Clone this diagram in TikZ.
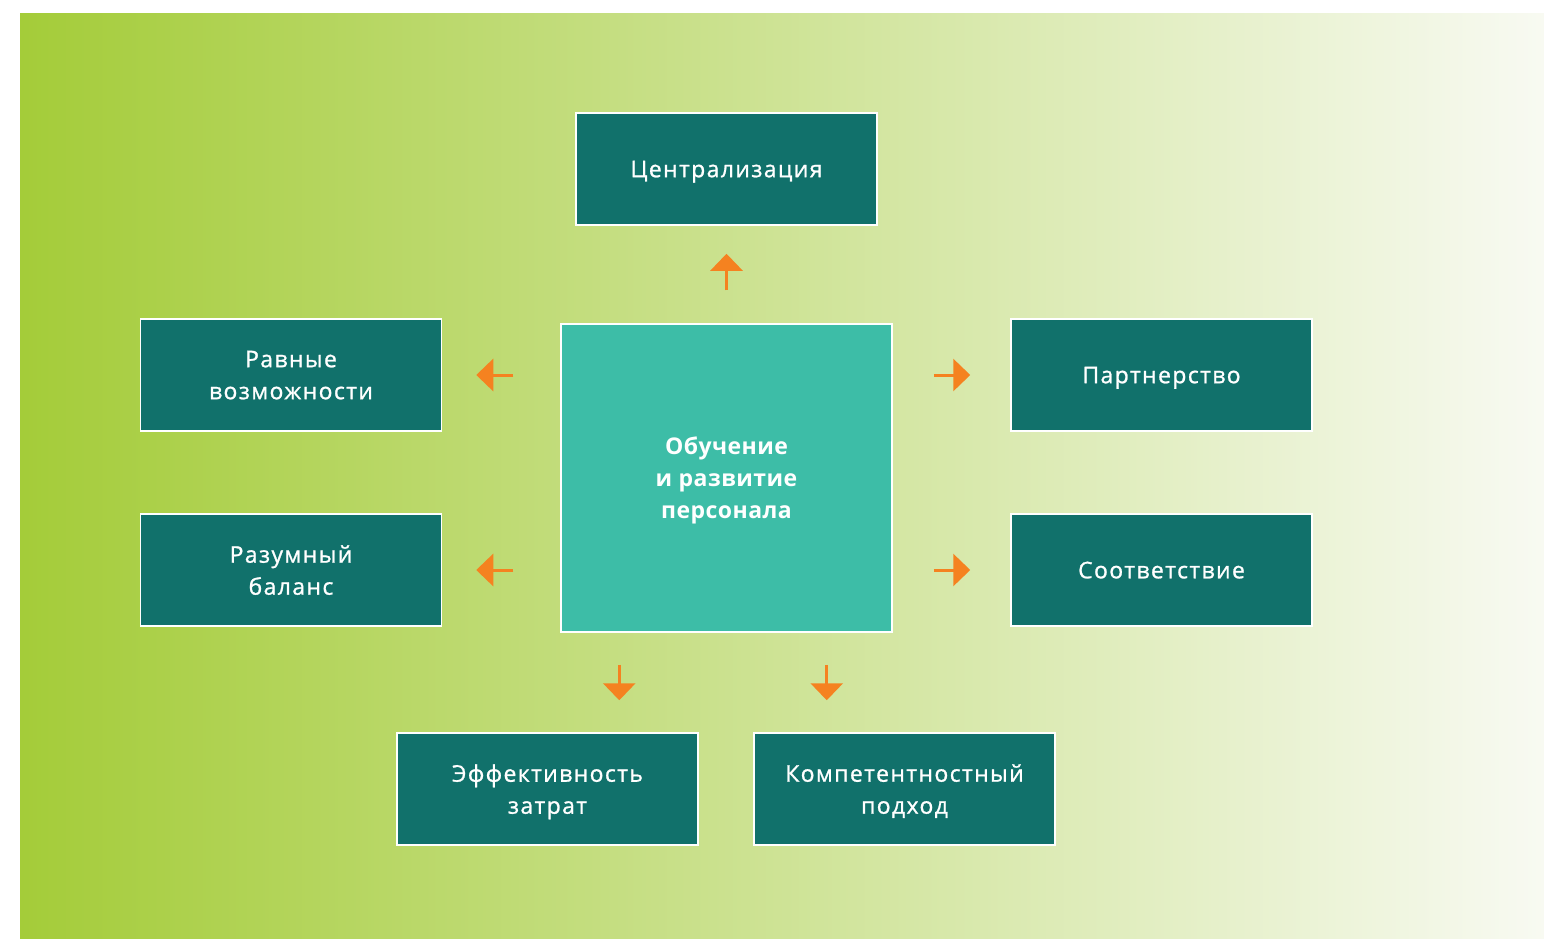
\documentclass[tikz,border=0pt]{standalone}
\usepackage{fontspec}
\setmainfont{Open Sans}[LetterSpace=2]
\newfontfamily\boxfont{Open Sans}[FakeBold=1,LetterSpace=6]
\usetikzlibrary{arrows.meta}
\definecolor{tealbox}{HTML}{11716B}
\definecolor{mintbox}{HTML}{3DBDA7}
\definecolor{arrorange}{HTML}{F58220}
\definecolor{bgleft}{HTML}{A4CC39}
\definecolor{bgmid}{HTML}{CFE39B}
\definecolor{bgright}{HTML}{F8FAF2}
\begin{document}
\begin{tikzpicture}[x=1pt,y=-1pt,
  box/.style={draw=white,line width=1.5pt,fill=tealbox,text=white,align=center,
    minimum width=301pt,minimum height=112pt,inner sep=0pt,text depth=-6pt,
    font=\boxfont\fontsize{23}{32}\selectfont},
  hub/.style={box,fill=mintbox,minimum width=331pt,minimum height=308pt,
    font=\fontsize{23}{32}\selectfont\bfseries},
  arr/.style={draw=arrorange,line width=3pt,-{Triangle[width=32pt,length=17pt]}}]
\useasboundingbox (0,0) rectangle (1544,938);
\shade[left color=bgleft,middle color=bgmid,right color=bgright] (20,13) rectangle (1544,938);
% boxes
\node[hub] (obuch) at (726.5,478) {Обучение\\и развитие\\персонала};
\node[box] (centr) at (726.5,169) {Централизация};
\node[box] (ravn) at (291,375) {Равные\\возможности};
\node[box] (razum) at (291,570) {Разумный\\баланс};
\node[box] (partn) at (1161.5,375) {Партнерство};
\node[box] (sootv) at (1161.5,570) {Соответствие};
\node[box] (effekt) at (547.5,789) {Эффективность\\затрат};
\node[box] (kompet) at (904.5,789) {Компетентностный\\подход};
% arrows
\draw[arr,shorten <=33pt,shorten >=28pt] (obuch.north) -- (centr.south);
\draw[arr,shorten <=47pt,shorten >=34pt] (ravn.east -| obuch.west) -- (ravn.east);
\draw[arr,shorten <=47pt,shorten >=34pt] (razum.east -| obuch.west) -- (razum.east);
\draw[arr,shorten <=41pt,shorten >=40pt] (partn.west -| obuch.east) -- (partn.west);
\draw[arr,shorten <=41pt,shorten >=40pt] (sootv.west -| obuch.east) -- (sootv.west);
\draw[arr,shorten <=32pt,shorten >=32pt] ([xshift=59pt]obuch.south west) -- ([xshift=59pt]obuch.south west |- effekt.north);
\draw[arr,shorten <=32pt,shorten >=32pt] ([xshift=-66pt]obuch.south east) -- ([xshift=-66pt]obuch.south east |- kompet.north);
\end{tikzpicture}
\end{document}
